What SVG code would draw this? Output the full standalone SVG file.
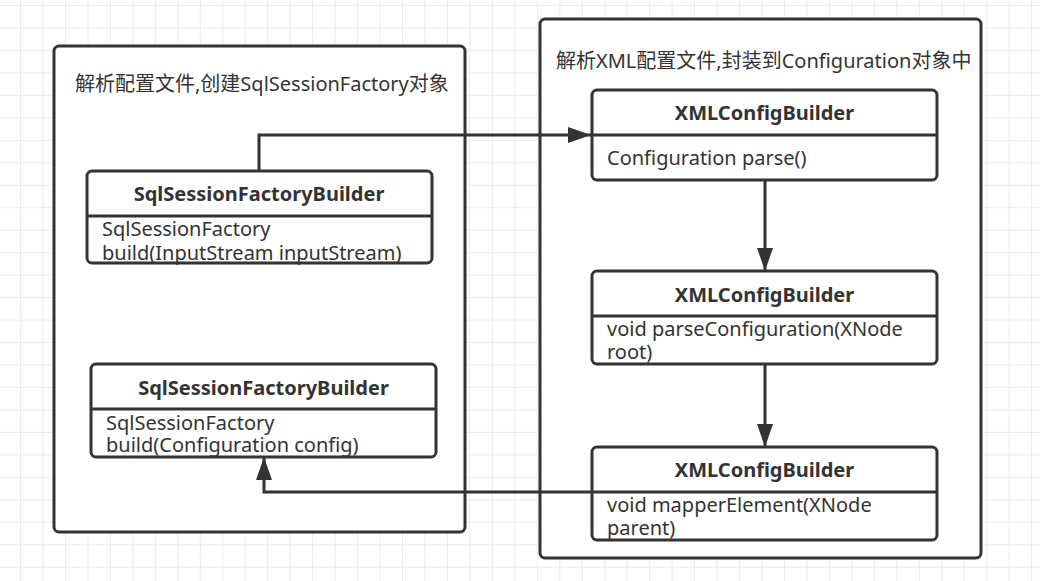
<svg xmlns="http://www.w3.org/2000/svg" width="1040" height="581" viewBox="0 0 1040 581">
<style>
.box{fill:#ffffff;stroke:#333333;stroke-width:3}
.div{stroke:#333333;stroke-width:3;fill:none}
.t{font-family:"Noto Sans","Noto Sans CJK SC",sans-serif;font-size:20px;fill:#333333}
.b{font-weight:bold;text-anchor:middle}
.edge{fill:none;stroke:#333333;stroke-width:3}
</style>
<defs>
<pattern id="grid" x="-1.47" y="5" width="22.47" height="22.47" patternUnits="userSpaceOnUse">
<path d="M22.47,0 V22.47 M0,0 H22.47" fill="none" stroke="#e6e6e6" stroke-width="1.5"/>
</pattern>
<marker id="arr" markerUnits="userSpaceOnUse" markerWidth="24" markerHeight="16" refX="23" refY="8" orient="auto">
<path d="M0,0 L23,8 L0,16 Z" fill="#333333"/>
</marker>
</defs>
<rect width="1040" height="581" fill="#ffffff"/>
<rect width="1040" height="581" fill="url(#grid)"/>

<g id="container-left">
<rect class="box" x="54" y="46" width="411" height="486" rx="5"/>
<text class="t" x="75" y="91">解析配置文件,创建SqlSessionFactory对象</text>
</g>
<g id="container-right">
<rect class="box" x="540" y="19" width="441" height="539" rx="5"/>
<text class="t" x="556" y="68">解析XML配置文件,封装到Configuration对象中</text>
</g>

<g id="node-ssfb1">
<rect class="box" x="87" y="171" width="345" height="92" rx="5"/>
<line class="div" x1="87" y1="216" x2="432" y2="216"/>
<text class="t b" x="259" y="201">SqlSessionFactoryBuilder</text>
<text class="t" x="102" y="236">SqlSessionFactory</text>
<text class="t" x="102" y="260">build(InputStream inputStream)</text>
</g>

<g id="node-ssfb2">
<rect class="box" x="91" y="364" width="345" height="93" rx="5"/>
<line class="div" x1="91" y1="409" x2="436" y2="409"/>
<text class="t b" x="263.5" y="395">SqlSessionFactoryBuilder</text>
<text class="t" x="106" y="430">SqlSessionFactory</text>
<text class="t" x="106" y="452">build(Configuration config)</text>
</g>

<g id="node-xml1">
<rect class="box" x="592" y="90" width="345" height="90" rx="5"/>
<line class="div" x1="592" y1="135" x2="937" y2="135"/>
<text class="t b" x="764.5" y="120">XMLConfigBuilder</text>
<text class="t" x="607" y="165">Configuration parse()</text>
</g>

<g id="node-xml2">
<rect class="box" x="592" y="271" width="345" height="93" rx="5"/>
<line class="div" x1="592" y1="316" x2="937" y2="316"/>
<text class="t b" x="764.5" y="302">XMLConfigBuilder</text>
<text class="t" x="607" y="336">void parseConfiguration(XNode</text>
<text class="t" x="607" y="359">root)</text>
</g>

<g id="node-xml3">
<rect class="box" x="592" y="447" width="345" height="93" rx="5"/>
<line class="div" x1="592" y1="492" x2="937" y2="492"/>
<text class="t b" x="764.5" y="477">XMLConfigBuilder</text>
<text class="t" x="607" y="512">void mapperElement(XNode</text>
<text class="t" x="607" y="535">parent)</text>
</g>

<g id="connectors">
<path class="edge" d="M259,171 V135 H591" marker-end="url(#arr)"/>
<path class="edge" d="M765,180 V271" marker-end="url(#arr)"/>
<path class="edge" d="M765,364 V447" marker-end="url(#arr)"/>
<path class="edge" d="M592,492 H264 V457" marker-end="url(#arr)"/>
</g>
</svg>
